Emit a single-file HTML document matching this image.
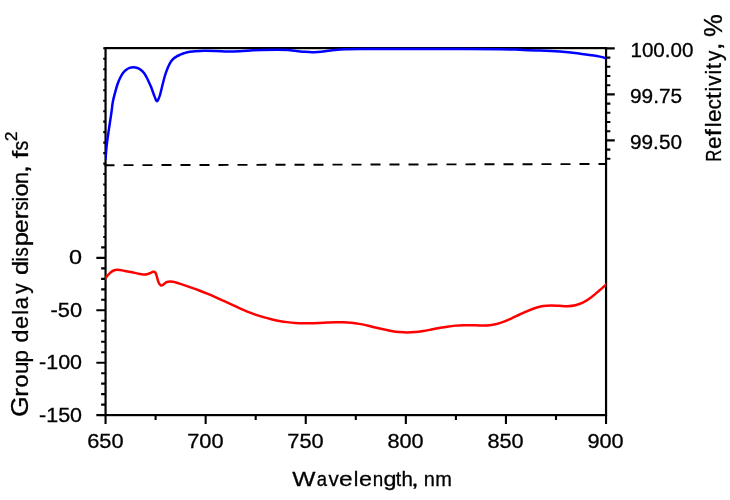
<!DOCTYPE html>
<html lang="en">
<head>
<meta charset="utf-8">
<title>Group delay dispersion and reflectivity</title>
<style>
html,body{margin:0;padding:0;background:#fff;}
body{width:730px;height:500px;overflow:hidden;}
svg{display:block;}
text{font-variant-ligatures:none;font-kerning:none;white-space:pre;}
</style>
</head>
<body>
<svg width="730" height="500" viewBox="0 0 730 500">
<rect width="730" height="500" fill="#fff"/>
<line x1="104.5" y1="165.2" x2="606.8" y2="164.0" stroke="#000" stroke-width="1.9" stroke-dasharray="10 9"/>
<path d="M105.55 415.10h-9.20 M105.55 404.62h-4.40 M105.55 394.14h-4.40 M105.55 383.66h-4.40 M105.55 373.18h-4.40 M105.55 362.70h-9.20 M105.55 352.22h-4.40 M105.55 341.74h-4.40 M105.55 331.26h-4.40 M105.55 320.78h-4.40 M105.55 310.30h-9.20 M105.55 299.82h-4.40 M105.55 289.34h-4.40 M105.55 278.86h-4.40 M105.55 268.38h-4.40 M105.55 257.90h-9.20 M105.55 247.42h-4.40 M105.55 236.94h-2.30 M105.55 226.46h-2.30 M105.55 215.98h-2.30 M105.55 205.50h-2.30 M105.55 195.02h-2.30 M105.55 184.54h-2.30 M105.55 174.06h-2.30 M105.55 163.58h-2.30 M105.55 153.10h-2.30 M105.55 142.62h-2.30 M105.55 132.14h-2.30 M105.55 121.66h-2.30 M105.55 111.18h-2.30 M105.55 100.70h-2.30 M105.55 90.22h-2.30 M105.55 79.74h-2.30 M105.55 69.26h-2.30 M105.55 58.78h-2.30 M105.55 48.30h-2.30 M105.55 415.10v8.90 M155.60 415.10v4.90 M205.65 415.10v8.90 M255.70 415.10v4.90 M305.75 415.10v8.90 M355.80 415.10v4.90 M405.85 415.10v8.90 M455.90 415.10v4.90 M505.95 415.10v8.90 M556.00 415.10v4.90 M606.05 415.10v8.90 M606.05 48.40h8.70 M606.05 57.60h4.30 M606.05 66.80h4.30 M606.05 76.00h4.30 M606.05 85.20h4.30 M606.05 94.40h8.70 M606.05 103.60h4.30 M606.05 112.80h4.30 M606.05 122.00h4.30 M606.05 131.20h4.30 M606.05 140.40h8.70 M606.05 149.60h4.30 M606.05 158.80h4.30" fill="none" stroke="#000" stroke-width="2.1"/>
<rect x="105.55" y="48.10" width="500.50" height="367.00" fill="none" stroke="#000" stroke-width="2.2"/>
<clipPath id="plot"><rect x="105.25" y="40" width="501.00" height="380"/></clipPath>
<g clip-path="url(#plot)" fill="none" stroke-width="2.5" stroke-linejoin="round" stroke-linecap="butt">
<path d="M105.50 159.60 C105.68 157.33 106.15 150.27 106.60 146.00 C107.05 141.73 107.63 138.00 108.20 134.00 C108.77 130.00 109.45 125.67 110.00 122.00 C110.55 118.33 111.03 115.33 111.50 112.00 C111.97 108.67 112.20 105.25 112.80 102.00 C113.40 98.75 114.30 95.50 115.10 92.50 C115.90 89.50 116.75 86.45 117.60 84.00 C118.45 81.55 119.30 79.63 120.20 77.80 C121.10 75.97 122.03 74.32 123.00 73.00 C123.97 71.68 124.92 70.75 126.00 69.90 C127.08 69.05 128.25 68.35 129.50 67.90 C130.75 67.45 132.17 67.18 133.50 67.20 C134.83 67.22 136.25 67.55 137.50 68.00 C138.75 68.45 139.92 69.07 141.00 69.90 C142.08 70.73 143.10 71.82 144.00 73.00 C144.90 74.18 145.67 75.67 146.40 77.00 C147.13 78.33 147.58 79.25 148.40 81.00 C149.22 82.75 150.37 85.17 151.30 87.50 C152.23 89.83 153.25 92.98 154.00 95.00 C154.75 97.02 155.30 98.57 155.80 99.60 C156.30 100.63 156.60 101.20 157.00 101.20 C157.40 101.20 157.70 100.63 158.20 99.60 C158.70 98.57 159.28 97.43 160.00 95.00 C160.72 92.57 161.67 88.25 162.50 85.00 C163.33 81.75 164.08 78.47 165.00 75.50 C165.92 72.53 167.00 69.53 168.00 67.20 C169.00 64.87 170.00 63.00 171.00 61.50 C172.00 60.00 173.00 59.08 174.00 58.20 C175.00 57.32 176.00 56.77 177.00 56.20 C178.00 55.63 178.83 55.30 180.00 54.80 C181.17 54.30 182.33 53.70 184.00 53.20 C185.67 52.70 187.33 52.18 190.00 51.80 C192.67 51.42 195.83 51.03 200.00 50.90 C204.17 50.77 210.33 50.88 215.00 51.00 C219.67 51.12 223.83 51.57 228.00 51.60 C232.17 51.63 235.83 51.42 240.00 51.20 C244.17 50.98 249.33 50.50 253.00 50.30 C256.67 50.10 257.83 50.08 262.00 50.00 C266.17 49.92 273.67 49.78 278.00 49.80 C282.33 49.82 285.17 49.93 288.00 50.10 C290.83 50.27 292.17 50.52 295.00 50.80 C297.83 51.08 302.17 51.57 305.00 51.80 C307.83 52.03 309.83 52.18 312.00 52.20 C314.17 52.22 315.83 52.07 318.00 51.90 C320.17 51.73 322.17 51.52 325.00 51.20 C327.83 50.88 331.67 50.32 335.00 50.00 C338.33 49.68 340.83 49.46 345.00 49.30 C349.17 49.14 350.83 49.10 360.00 49.05 C369.17 49.00 385.00 49.01 400.00 49.00 C415.00 48.99 433.33 48.96 450.00 49.00 C466.67 49.04 488.33 49.12 500.00 49.25 C511.67 49.38 513.33 49.59 520.00 49.80 C526.67 50.01 533.33 50.20 540.00 50.50 C546.67 50.80 554.17 51.20 560.00 51.60 C565.83 52.00 570.00 52.33 575.00 52.90 C580.00 53.47 585.83 54.38 590.00 55.00 C594.17 55.62 597.30 56.05 600.00 56.60 C602.70 57.15 604.87 57.92 606.20 58.30 C607.53 58.68 607.70 58.80 608.00 58.90" stroke="#0000ff"/>
<path d="M104.00 280.20 C104.22 279.87 104.37 279.33 105.30 278.20 C106.23 277.07 108.22 274.68 109.60 273.40 C110.98 272.12 112.27 271.12 113.60 270.50 C114.93 269.88 115.87 269.67 117.60 269.70 C119.33 269.73 121.60 270.27 124.00 270.70 C126.40 271.13 129.33 271.77 132.00 272.30 C134.67 272.83 137.72 273.55 140.00 273.90 C142.28 274.25 144.08 274.52 145.70 274.40 C147.32 274.28 148.47 273.63 149.70 273.20 C150.93 272.77 152.17 271.90 153.10 271.80 C154.03 271.70 154.67 271.80 155.30 272.60 C155.93 273.40 156.37 275.00 156.90 276.60 C157.43 278.20 157.83 280.72 158.50 282.20 C159.17 283.68 160.10 285.10 160.90 285.50 C161.70 285.90 162.37 285.15 163.30 284.60 C164.23 284.05 165.35 282.70 166.50 282.20 C167.65 281.70 168.73 281.58 170.20 281.60 C171.67 281.62 173.12 281.76 175.30 282.30 C177.48 282.84 180.63 283.97 183.30 284.85 C185.97 285.72 188.63 286.63 191.30 287.56 C193.97 288.50 196.63 289.45 199.30 290.46 C201.97 291.47 204.63 292.50 207.30 293.60 C209.97 294.70 212.63 295.86 215.30 297.05 C217.97 298.24 220.63 299.49 223.30 300.73 C225.97 301.97 228.63 303.25 231.30 304.48 C233.97 305.72 236.63 306.96 239.30 308.14 C241.97 309.32 244.63 310.49 247.30 311.56 C249.97 312.63 252.63 313.64 255.30 314.57 C257.97 315.50 260.63 316.35 263.30 317.13 C265.97 317.91 268.63 318.61 271.30 319.24 C273.97 319.87 276.63 320.42 279.30 320.90 C281.97 321.38 284.63 321.79 287.30 322.12 C289.97 322.46 292.63 322.72 295.30 322.91 C297.97 323.10 300.63 323.22 303.30 323.27 C305.97 323.33 308.63 323.29 311.30 323.23 C313.97 323.16 316.63 323.02 319.30 322.90 C321.97 322.77 324.63 322.60 327.30 322.48 C329.97 322.36 332.63 322.22 335.30 322.17 C337.97 322.13 340.63 322.10 343.30 322.19 C345.97 322.27 348.63 322.43 351.30 322.71 C353.97 322.99 356.63 323.41 359.30 323.89 C361.97 324.37 364.63 324.97 367.30 325.56 C369.97 326.16 372.63 326.84 375.30 327.47 C377.97 328.10 380.63 328.76 383.30 329.34 C385.97 329.92 388.63 330.49 391.30 330.95 C393.97 331.40 396.63 331.81 399.30 332.06 C401.97 332.32 404.63 332.49 407.30 332.48 C409.97 332.48 412.63 332.31 415.30 332.06 C417.97 331.81 420.63 331.39 423.30 330.97 C425.97 330.55 428.63 330.02 431.30 329.52 C433.97 329.03 436.63 328.48 439.30 328.00 C441.97 327.52 444.63 327.03 447.30 326.64 C449.97 326.24 452.63 325.88 455.30 325.63 C457.97 325.39 460.63 325.24 463.30 325.17 C465.97 325.10 468.63 325.18 471.30 325.24 C473.97 325.29 476.63 325.48 479.30 325.51 C481.97 325.54 484.63 325.62 487.30 325.42 C489.97 325.23 492.63 324.92 495.30 324.34 C497.97 323.75 500.63 322.88 503.30 321.91 C505.97 320.94 508.63 319.74 511.30 318.54 C513.97 317.35 516.63 316.00 519.30 314.75 C521.97 313.50 524.63 312.18 527.30 311.05 C529.97 309.91 532.63 308.80 535.30 307.95 C537.97 307.10 540.63 306.39 543.30 305.97 C545.97 305.56 548.63 305.48 551.30 305.46 C553.97 305.44 556.63 305.72 559.30 305.85 C561.97 305.98 564.63 306.31 567.30 306.22 C569.97 306.13 572.63 305.94 575.30 305.31 C577.97 304.68 580.63 303.76 583.30 302.41 C585.97 301.07 588.63 299.22 591.30 297.24 C593.97 295.27 596.63 292.85 599.30 290.56 C601.97 288.27 605.85 284.76 607.30 283.48 C608.75 282.20 607.88 282.98 608.00 282.88" stroke="#ff0000"/>
</g>
<g font-family="'Liberation Sans', sans-serif" fill="#000" stroke="#000" stroke-width="0.3">
<text x="87.24" y="447.60" font-size="19.50" textLength="36.36" lengthAdjust="spacingAndGlyphs">650</text>
<text x="187.25" y="447.60" font-size="19.50" textLength="36.37" lengthAdjust="spacingAndGlyphs">700</text>
<text x="287.27" y="447.60" font-size="19.50" textLength="36.37" lengthAdjust="spacingAndGlyphs">750</text>
<text x="387.47" y="447.60" font-size="19.50" textLength="36.19" lengthAdjust="spacingAndGlyphs">800</text>
<text x="487.49" y="447.60" font-size="19.50" textLength="36.19" lengthAdjust="spacingAndGlyphs">850</text>
<text x="587.43" y="447.60" font-size="19.50" textLength="36.27" lengthAdjust="spacingAndGlyphs">900</text>
<text x="69.08" y="264.00" font-size="19.50" textLength="13.03" lengthAdjust="spacingAndGlyphs">0</text>
<text x="50.53" y="316.50" font-size="19.50" textLength="31.52" lengthAdjust="spacingAndGlyphs">-50</text>
<text x="39.05" y="369.00" font-size="19.50" textLength="42.99" lengthAdjust="spacingAndGlyphs">-100</text>
<text x="39.05" y="421.50" font-size="19.50" textLength="42.99" lengthAdjust="spacingAndGlyphs">-150</text>
<text x="630.43" y="56.70" font-size="19.50" textLength="63.08" lengthAdjust="spacingAndGlyphs">100.00</text>
<text x="630.03" y="103.00" font-size="19.50" textLength="52.05" lengthAdjust="spacingAndGlyphs">99.75</text>
<text x="630.03" y="148.50" font-size="19.50" textLength="51.99" lengthAdjust="spacingAndGlyphs">99.50</text>
<text y="485.6" font-size="20.50"><tspan x="292.39" textLength="23.19" lengthAdjust="spacingAndGlyphs">W</tspan><tspan x="316.71" textLength="10.29" lengthAdjust="spacingAndGlyphs">a</tspan><tspan x="328.43">v</tspan><tspan x="338.96" textLength="13.63" lengthAdjust="spacingAndGlyphs">e</tspan><tspan x="353.72">l</tspan><tspan x="359.00" textLength="13.04" lengthAdjust="spacingAndGlyphs">e</tspan><tspan x="372.75" textLength="10.47" lengthAdjust="spacingAndGlyphs">n</tspan><tspan x="383.52" textLength="12.99" lengthAdjust="spacingAndGlyphs">g</tspan><tspan x="395.70" textLength="5.44" lengthAdjust="spacingAndGlyphs">t</tspan><tspan x="401.60">h</tspan><tspan x="411.30" textLength="7.40" lengthAdjust="spacingAndGlyphs">,</tspan><tspan x="418.31"> </tspan><tspan x="423.67" textLength="11.13" lengthAdjust="spacingAndGlyphs">n</tspan><tspan x="435.17" textLength="16.64" lengthAdjust="spacingAndGlyphs">m</tspan></text>
<text transform="translate(28.2 416) rotate(-90)" y="0" font-size="21.50"><tspan x="-1.05" font-size="24.50" textLength="20.85" lengthAdjust="spacingAndGlyphs">G</tspan><tspan x="19.27" textLength="8.66" lengthAdjust="spacingAndGlyphs">r</tspan><tspan x="28.52" textLength="12.96" lengthAdjust="spacingAndGlyphs">o</tspan><tspan x="42.05" textLength="12.44" lengthAdjust="spacingAndGlyphs">u</tspan><tspan x="53.57" textLength="12.37" lengthAdjust="spacingAndGlyphs">p</tspan><tspan x="67.00"> </tspan><tspan x="73.52" textLength="12.99" lengthAdjust="spacingAndGlyphs">d</tspan><tspan x="87.00" textLength="13.04" lengthAdjust="spacingAndGlyphs">e</tspan><tspan x="101.31">l</tspan><tspan x="106.66" textLength="12.34" lengthAdjust="spacingAndGlyphs">a</tspan><tspan x="122.15" textLength="10.39" lengthAdjust="spacingAndGlyphs">y</tspan><tspan x="134.50"> </tspan><tspan x="140.93" textLength="14.22" lengthAdjust="spacingAndGlyphs">d</tspan><tspan x="154.32">i</tspan><tspan x="159.49" textLength="9.17" lengthAdjust="spacingAndGlyphs">s</tspan><tspan x="169.85" textLength="14.22" lengthAdjust="spacingAndGlyphs">p</tspan><tspan x="182.96" textLength="13.63" lengthAdjust="spacingAndGlyphs">e</tspan><tspan x="196.77" textLength="8.66" lengthAdjust="spacingAndGlyphs">r</tspan><tspan x="205.49" textLength="9.17" lengthAdjust="spacingAndGlyphs">s</tspan><tspan x="214.42">i</tspan><tspan x="219.52" textLength="12.96" lengthAdjust="spacingAndGlyphs">o</tspan><tspan x="232.09">n</tspan><tspan x="243.12" textLength="7.77" lengthAdjust="spacingAndGlyphs">,</tspan><tspan x="250.37"> </tspan><tspan x="257.40" textLength="7.77" lengthAdjust="spacingAndGlyphs">f</tspan><tspan x="265.46" textLength="9.75" lengthAdjust="spacingAndGlyphs">s</tspan></text>
<text transform="translate(16.60 140.50) rotate(-90)" x="-0.88" y="0" font-size="16.00" textLength="9.77" lengthAdjust="spacingAndGlyphs">2</text>
<text transform="translate(721.2 160) rotate(-90)" y="0" font-size="21.50"><tspan x="-1.52" font-size="22.60" textLength="11.75" lengthAdjust="spacingAndGlyphs">R</tspan><tspan x="10.94" textLength="12.56" lengthAdjust="spacingAndGlyphs">e</tspan><tspan x="23.84" textLength="7.13" lengthAdjust="spacingAndGlyphs">f</tspan><tspan x="32.81">l</tspan><tspan x="38.13" textLength="12.68" lengthAdjust="spacingAndGlyphs">e</tspan><tspan x="50.84" textLength="10.09" lengthAdjust="spacingAndGlyphs">c</tspan><tspan x="60.94" textLength="6.64" lengthAdjust="spacingAndGlyphs">t</tspan><tspan x="68.42">i</tspan><tspan x="74.13" textLength="10.34" lengthAdjust="spacingAndGlyphs">v</tspan><tspan x="85.52">i</tspan><tspan x="90.76" textLength="6.20" lengthAdjust="spacingAndGlyphs">t</tspan><tspan x="99.05" textLength="10.39" lengthAdjust="spacingAndGlyphs">y</tspan><tspan x="109.67" textLength="7.77" lengthAdjust="spacingAndGlyphs">,</tspan></text>
<text transform="translate(722.00 36.00) rotate(-90)" x="-0.92" y="0" font-size="25.00" textLength="22.83" lengthAdjust="spacingAndGlyphs">%</text>
</g>
</svg>
</body>
</html>
